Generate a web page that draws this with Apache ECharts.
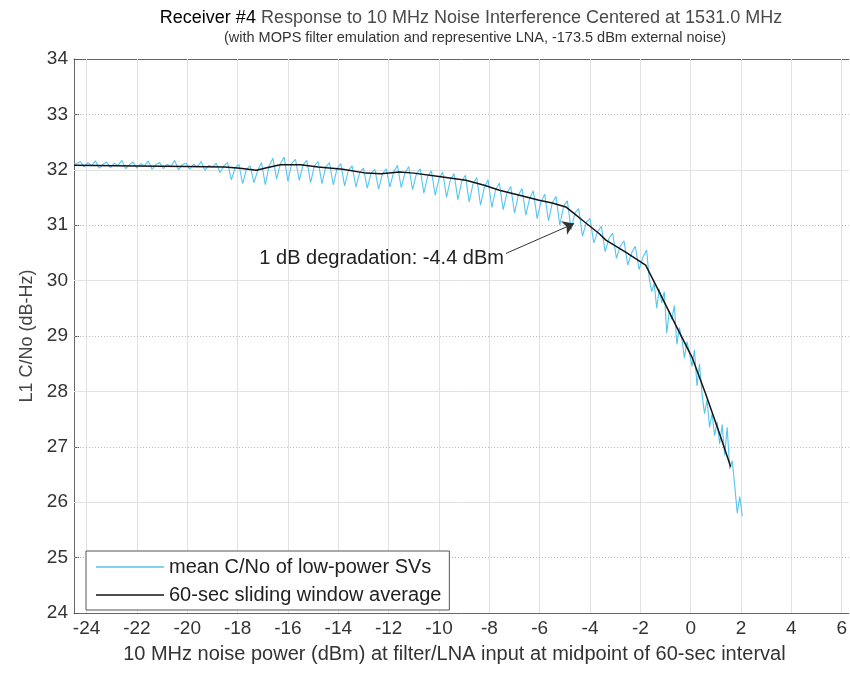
<!DOCTYPE html>
<html>
<head>
<meta charset="utf-8">
<script src="https://cdn.jsdelivr.net/npm/echarts@6/dist/echarts.min.js"></script>
<style>
  html, body { margin: 0; padding: 0; background: #fff; }
  #chart { width: 850px; height: 680px; }
</style>
</head>
<body>
<div id="chart"></div>
<script>
// tick values
const xTicks = [-24, -22, -20, -18, -16, -14, -12, -10, -8, -6, -4, -2, 0, 2, 4, 6];
const yMajorGrid = [26, 28, 30, 32];
const yMinorGrid = [25, 27, 29, 31, 33];

// mean C/No of low-power SVs, [noise power dBm, C/No dB-Hz]
const lowPowerSV = [
  [-24.50, 32.10], [-24.40, 32.11], [-24.25, 32.15], [-24.10, 32.05], [-23.95, 32.13],
  [-23.80, 32.07], [-23.65, 32.16], [-23.50, 32.03], [-23.35, 32.10], [-23.20, 32.14],
  [-23.05, 32.04], [-22.90, 32.12], [-22.75, 32.08], [-22.60, 32.17], [-22.45, 32.02],
  [-22.30, 32.09], [-22.15, 32.14], [-22.00, 32.03], [-21.85, 32.11], [-21.70, 32.07],
  [-21.55, 32.16], [-21.40, 32.01], [-21.25, 32.09], [-21.10, 32.13], [-20.95, 32.02],
  [-20.80, 32.10], [-20.65, 32.06], [-20.50, 32.17], [-20.35, 32.00], [-20.20, 32.09],
  [-20.05, 32.12], [-19.90, 32.01], [-19.75, 32.10], [-19.60, 32.05], [-19.45, 32.15],
  [-19.30, 31.99], [-19.15, 32.08], [-19.00, 32.05], [-18.85, 32.12], [-18.70, 31.95],
  [-18.55, 32.07], [-18.40, 32.13], [-18.25, 31.82], [-18.10, 32.03], [-17.95, 32.10],
  [-17.80, 31.75], [-17.65, 32.01], [-17.50, 32.07], [-17.35, 31.77], [-17.20, 31.99],
  [-17.05, 32.13], [-16.90, 31.73], [-16.75, 32.07], [-16.60, 32.21], [-16.45, 31.83],
  [-16.30, 32.11], [-16.15, 32.23], [-16.00, 31.79], [-15.85, 32.12], [-15.70, 32.19],
  [-15.55, 31.81], [-15.40, 32.09], [-15.25, 32.17], [-15.10, 31.77], [-14.95, 32.07],
  [-14.80, 32.15], [-14.65, 31.75], [-14.50, 32.05], [-14.35, 32.13], [-14.20, 31.73],
  [-14.05, 32.02], [-13.90, 32.11], [-13.75, 31.71], [-13.60, 31.99], [-13.45, 32.07],
  [-13.30, 31.69], [-13.15, 31.95], [-13.00, 32.03], [-12.85, 31.67], [-12.70, 31.93],
  [-12.55, 32.01], [-12.40, 31.65], [-12.25, 31.92], [-12.10, 32.02], [-11.95, 31.69],
  [-11.80, 31.96], [-11.65, 32.08], [-11.50, 31.68], [-11.35, 31.94], [-11.20, 32.06],
  [-11.05, 31.64], [-10.90, 31.92], [-10.75, 32.02], [-10.60, 31.58], [-10.45, 31.88],
  [-10.30, 31.98], [-10.15, 31.54], [-10.00, 31.84], [-9.85, 31.96], [-9.70, 31.50],
  [-9.55, 31.82], [-9.40, 31.93], [-9.25, 31.46], [-9.10, 31.78], [-8.95, 31.90],
  [-8.80, 31.42], [-8.65, 31.74], [-8.50, 31.86], [-8.35, 31.36], [-8.20, 31.68],
  [-8.05, 31.82], [-7.90, 31.32], [-7.75, 31.64], [-7.60, 31.76], [-7.45, 31.28],
  [-7.30, 31.58], [-7.15, 31.70], [-7.00, 31.22], [-6.85, 31.54], [-6.70, 31.66],
  [-6.55, 31.18], [-6.40, 31.48], [-6.25, 31.62], [-6.10, 31.12], [-5.95, 31.42],
  [-5.80, 31.56], [-5.65, 31.08], [-5.50, 31.40], [-5.35, 31.52], [-5.20, 31.00],
  [-5.05, 31.34], [-4.90, 31.44], [-4.75, 30.92], [-4.60, 31.22], [-4.45, 31.30],
  [-4.30, 30.80], [-4.15, 31.05], [-4.00, 31.12], [-3.85, 30.68], [-3.70, 30.88],
  [-3.55, 30.98], [-3.40, 30.52], [-3.25, 30.76], [-3.10, 30.86], [-2.95, 30.40],
  [-2.80, 30.62], [-2.65, 30.72], [-2.50, 30.28], [-2.35, 30.50], [-2.20, 30.62],
  [-2.05, 30.20], [-1.90, 30.42], [-1.75, 30.55], [-1.65, 30.05], [-1.55, 29.80],
  [-1.45, 29.95], [-1.35, 29.50], [-1.25, 29.85], [-1.15, 29.60], [-1.05, 29.80],
  [-0.95, 29.05], [-0.85, 29.45], [-0.75, 29.30], [-0.65, 29.55], [-0.55, 28.85],
  [-0.45, 29.15], [-0.35, 28.95], [-0.25, 28.60], [-0.15, 28.90], [-0.05, 28.70],
  [0.05, 28.45], [0.15, 28.75], [0.25, 28.10], [0.35, 28.50], [0.45, 27.95],
  [0.55, 27.60], [0.65, 27.85], [0.75, 27.35], [0.85, 27.60], [0.95, 27.20],
  [1.05, 27.45], [1.15, 27.05], [1.25, 27.40], [1.35, 26.85], [1.45, 27.35],
  [1.55, 26.60], [1.65, 26.75], [1.75, 26.30], [1.85, 25.80], [1.95, 26.10],
  [2.05, 25.75]
];

// 60-sec sliding window average
const windowAvg = [
  [-24.50, 32.08], [-22.00, 32.07], [-20.00, 32.06], [-18.50, 32.05], [-17.90, 32.03],
  [-17.26, 31.99], [-16.80, 32.04], [-16.30, 32.09], [-15.50, 32.09], [-14.80, 32.05],
  [-13.82, 32.01], [-12.90, 31.94], [-12.30, 31.93], [-11.57, 31.96], [-11.00, 31.94],
  [-10.00, 31.88], [-8.93, 31.81], [-8.20, 31.72], [-7.60, 31.63], [-6.80, 31.54],
  [-6.02, 31.45], [-5.50, 31.40], [-4.96, 31.33], [-4.60, 31.20], [-4.30, 31.09],
  [-3.64, 30.85], [-3.37, 30.73], [-2.60, 30.52], [-1.79, 30.28], [-1.20, 29.75],
  [-0.60, 29.20], [0.05, 28.62], [0.60, 27.95], [1.10, 27.30], [1.59, 26.64]
];

// annotation
const noteText = '1 dB degradation: -4.4 dBm';
const arrowFrom = [-7.34, 30.49];
const arrowTo = [-4.63, 31.03];

const FONT = '"Liberation Sans", Arial, sans-serif';
const chart = echarts.init(document.getElementById('chart'));

const gridLine = (color, type) => ({ color: color, type: type, width: 1 });

chart.setOption({
  animation: false,
  backgroundColor: '#fff',
  title: [{
    text: '{a|Receiver #4} Response to 10 MHz Noise Interference Centered at 1531.0 MHz',
    left: 466,
    top: 4,
    textAlign: 'center',
    textStyle: {
      fontFamily: FONT, fontSize: 18, fontWeight: 'normal', color: '#4a4a4a',
      rich: { a: { fontFamily: FONT, fontSize: 18, color: '#000' } }
    }
  }, {
    text: '(with MOPS filter emulation and representive LNA, -173.5 dBm external noise)',
    left: 470,
    top: 25,
    textAlign: 'center',
    textStyle: { fontFamily: FONT, fontSize: 14.5, fontWeight: 'normal', color: '#333' }
  }],
  grid: {
    left: 74, right: 0, top: 59, bottom: 67
  },
  legend: {
    orient: 'vertical',
    left: 86,
    top: 551,
    data: [
      { name: 'mean C/No of low-power SVs', icon: 'rect' },
      { name: '60-sec sliding window average', icon: 'rect' }
    ],
    itemWidth: 68,
    itemHeight: 1.5,
    itemGap: 8,
    padding: [6, 8, 5, 10],
    borderColor: '#555',
    borderWidth: 1,
    backgroundColor: '#fff',
    textStyle: { fontFamily: FONT, fontSize: 20, color: '#222' }
  },
  xAxis: [{
    type: 'value',
    min: -24.5,
    max: 6.28,
    name: '10 MHz noise power (dBm) at filter/LNA input at midpoint of 60-sec interval',
    nameLocation: 'middle',
    nameGap: 31,
    nameTextStyle: { fontFamily: FONT, fontSize: 20, color: '#333', padding: [0, 0, 0, -14] },
    axisLine: { show: true, onZero: false, lineStyle: { color: '#666' } },
    axisTick: { show: true, inside: true, length: 5, customValues: xTicks, lineStyle: { color: '#555' } },
    axisLabel: { customValues: xTicks, fontFamily: FONT, fontSize: 19, color: '#333', margin: 6 },
    splitLine: { show: false }
  }, {
    type: 'value',
    position: 'top',
    min: -24.5,
    max: 6.28,
    axisLine: { show: true, onZero: false, lineStyle: { color: '#666' } },
    axisTick: { show: true, inside: true, length: 5, customValues: xTicks, lineStyle: { color: '#555' } },
    axisLabel: { show: false },
    splitLine: { show: false }
  }],
  yAxis: {
    type: 'value',
    min: 24,
    max: 34,
    interval: 1,
    name: 'L1 C/No (dB-Hz)',
    nameLocation: 'middle',
    nameGap: 38,
    nameTextStyle: { fontFamily: FONT, fontSize: 18, color: '#444' },
    axisLine: { show: true, onZero: false, lineStyle: { color: '#666' } },
    axisTick: { show: true, inside: true, length: 5, lineStyle: { color: '#555' } },
    axisLabel: { fontFamily: FONT, fontSize: 19, color: '#333', margin: 6 },
    splitLine: { show: false }
  },
  series: [{
    name: 'mean C/No of low-power SVs',
    type: 'line',
    data: lowPowerSV,
    symbol: 'none',
    lineStyle: { color: '#56c5ef', width: 1.1 },
    itemStyle: { color: '#56c5ef' },
    z: 3,
    markLine: {
      silent: true,
      z: 1,
      symbol: 'none',
      label: { show: false },
      data: xTicks.map(v => ({ xAxis: v, lineStyle: gridLine('#e2e2e2', 'solid') }))
        .concat(yMajorGrid.map(v => ({ yAxis: v, lineStyle: gridLine('#e2e2e2', 'solid') })))
        .concat(yMinorGrid.map(v => ({ yAxis: v, lineStyle: gridLine('#b8b8b8', [1, 2]) })))
    }
  }, {
    name: '60-sec sliding window average',
    type: 'line',
    data: windowAvg,
    symbol: 'none',
    lineStyle: { color: '#151515', width: 1.5 },
    itemStyle: { color: '#151515' },
    z: 4,
    markLine: {
      silent: true,
      symbol: ['none', 'arrow'],
      symbolSize: 11,
      label: { show: false },
      lineStyle: { color: '#333', type: 'solid', width: 1 },
      data: [[{ coord: arrowFrom }, { coord: arrowTo }]]
    },
    markPoint: {
      silent: true,
      symbol: 'circle',
      symbolSize: 0,
      data: [{
        coord: arrowFrom,
        label: {
          show: true,
          position: 'left',
          distance: 2,
          offset: [0, 5],
          formatter: noteText,
          fontFamily: FONT,
          fontSize: 20,
          color: '#222'
        }
      }]
    }
  }]
});
</script>
</body>
</html>
